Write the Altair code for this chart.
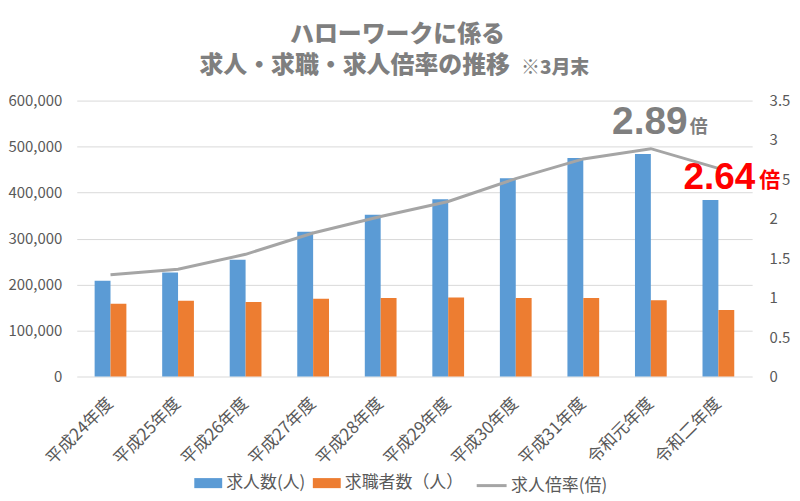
import altair as alt
import pandas as pd

# ---- data ----
years = ["平成24年度", "平成25年度", "平成26年度", "平成27年度", "平成28年度",
         "平成29年度", "平成30年度", "平成31年度", "令和元年度", "令和二年度"]
openings = [208000, 226000, 254000, 315000, 351500, 385500, 431000, 475000, 483600, 384000]
seekers = [158000, 165000, 162000, 169000, 170500, 172000, 170500, 170500, 166000, 144500]
ratio = [1.29, 1.36, 1.55, 1.82, 2.03, 2.22, 2.51, 2.76, 2.89, 2.64]

bar_series = ["求人数(人)", "求職者数（人）"]
line_series = "求人倍率(倍)"
left_ticks = [0, 100000, 200000, 300000, 400000, 500000, 600000]
right_ticks = [0, 0.5, 1, 1.5, 2, 2.5, 3, 3.5]
title_line1 = "ハローワークに係る"
title_line2 = "求人・求職・求人倍率の推移"
title_note = "※3月末"
unit = "倍"

# ---- tables ----
bar_df = pd.DataFrame({
    "年度": years * 2,
    "区分": [bar_series[0]] * len(years) + [bar_series[1]] * len(years),
    "人数": openings + seekers,
})
line_df = pd.DataFrame({"年度": years, "指標": line_series, "倍率": ratio})
ann_peak = pd.DataFrame({"年度": [years[8]], "倍率": [ratio[8]], "label": [f"{ratio[8]:.2f}"], "u": [unit]})
ann_last = pd.DataFrame({"年度": [years[9]], "倍率": [ratio[9]], "label": [f"{ratio[9]:.2f}"], "u": [unit]})

FONT = "Noto Sans CJK JP"
TXT = "#595959"
TITLE_C = "#7F7F7F"

x_enc = alt.X(
    "年度:N", sort=years,
    scale=alt.Scale(paddingInner=0.53, paddingOuter=0.265),
    axis=alt.Axis(labelAngle=-45, labelAlign="right", labelBaseline="middle",
                  labelFontSize=17, labelColor=TXT, labelFont=FONT,
                  domain=False, ticks=False, labelPadding=24, title=None),
)
y_ratio = alt.Y(
    "倍率:Q", scale=alt.Scale(domain=[0, 3.5]),
    axis=alt.Axis(orient="right", values=right_ticks, format=".1~f", grid=False,
                  domain=False, ticks=False, labelFontSize=15, labelColor=TXT,
                  labelFont=FONT, labelPadding=17, title=None),
)

bars = alt.Chart(bar_df).mark_bar().encode(
    x=x_enc,
    xOffset=alt.XOffset("区分:N", sort=bar_series),
    y=alt.Y("人数:Q", scale=alt.Scale(domain=[0, 600000]),
            axis=alt.Axis(values=left_ticks, format=",d", domain=False, ticks=False,
                          grid=True, gridColor="#D9D9D9", gridWidth=1,
                          labelFontSize=15, labelColor=TXT, labelFont=FONT,
                          labelPadding=15, title=None)),
    color=alt.Color("区分:N", sort=bar_series,
                    scale=alt.Scale(domain=bar_series, range=["#5B9BD5", "#ED7D31"]),
                    legend=alt.Legend(orient="none", legendX=118, legendY=370,
                                      direction="horizontal", title=None,
                                      symbolType="M-1,-0.36H1V0.36H-1Z", symbolSize=784,
                                      symbolStrokeWidth=0,
                                      labelFontSize=17, labelFont=FONT, labelColor=TXT,
                                      labelOffset=4, columnPadding=7)),
)

line = alt.Chart(line_df).mark_line(strokeWidth=3).encode(
    x=x_enc,
    y=y_ratio,
    stroke=alt.Stroke("指標:N",
                      scale=alt.Scale(domain=[line_series], range=["#A5A5A5"]),
                      legend=alt.Legend(orient="none", legendX=400, legendY=370,
                                        title=None, symbolType="stroke", symbolSize=900,
                                        symbolStrokeWidth=3,
                                        labelFontSize=17, labelFont=FONT, labelColor=TXT,
                                        labelOffset=3)),
)

peak_num = alt.Chart(ann_peak).mark_text(
    font="Liberation Sans", fontWeight="bold", fontSize=39, color=TITLE_C,
    align="right", baseline="alphabetic", dx=37, dy=-15,
).encode(x=x_enc, y=y_ratio, text="label:N")
peak_unit = alt.Chart(ann_peak).mark_text(
    font=FONT, fontWeight="bold", fontSize=18, color=TITLE_C,
    align="left", baseline="alphabetic", dx=39, dy=-16,
).encode(x=x_enc, y=y_ratio, text="u:N")
last_num = alt.Chart(ann_last).mark_text(
    font="Liberation Sans", fontWeight="bold", fontSize=37, color="#FF0000",
    align="right", baseline="alphabetic", dx=37, dy=21,
).encode(x=x_enc, y=y_ratio, text="label:N")
last_unit_bg = alt.Chart(ann_last).mark_text(
    font=FONT, fontWeight="bold", fontSize=21, color="#FFFFFF",
    stroke="#FFFFFF", strokeWidth=7, strokeJoin="round",
    align="left", baseline="alphabetic", dx=41, dy=19,
).encode(x=x_enc, y=y_ratio, text="u:N")
last_unit = alt.Chart(ann_last).mark_text(
    font=FONT, fontWeight="bold", fontSize=21, color="#FF0000",
    align="left", baseline="alphabetic", dx=41, dy=19,
).encode(x=x_enc, y=y_ratio, text="u:N")

t1 = alt.Chart(pd.DataFrame({"t": [title_line1]})).mark_text(
    font=FONT, fontWeight=900, fontSize=24, color=TITLE_C, align="center", baseline="middle",
).encode(x=alt.value(322), y=alt.value(-66), text="t:N")
t2 = alt.Chart(pd.DataFrame({"t": [title_line2]})).mark_text(
    font=FONT, fontWeight=900, fontSize=24, color=TITLE_C, align="center", baseline="middle",
).encode(x=alt.value(279), y=alt.value(-35), text="t:N")
t3 = alt.Chart(pd.DataFrame({"t": [title_note]})).mark_text(
    font=FONT, fontWeight=900, fontSize=19, color=TITLE_C, align="left", baseline="middle",
).encode(x=alt.value(446), y=alt.value(-33), text="t:N")

right_layer = alt.layer(line, peak_num, peak_unit, last_num, last_unit_bg, last_unit)

chart = alt.layer(bars, right_layer, t1, t2, t3).resolve_scale(
    y="independent"
).properties(
    width=678, height=277,
    autosize=alt.AutoSizeParams(type="none"),
    padding={"left": 69, "top": 92, "right": 40, "bottom": 120},
).configure_view(stroke=None)

chart.save("out.html", embed_options={"renderer": "svg", "actions": False})
